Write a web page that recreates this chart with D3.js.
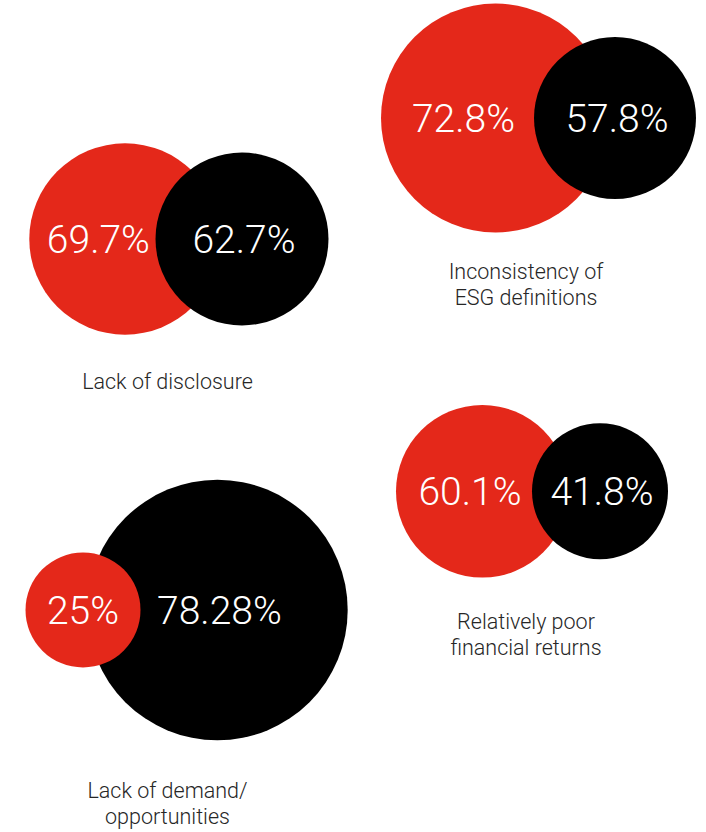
<!DOCTYPE html>
<html>
<head>
<meta charset="utf-8">
<script src="https://cdn.jsdelivr.net/npm/d3@7"></script>
<style>
  html, body { margin: 0; padding: 0; background: #fff; }
  svg { display: block; }
</style>
</head>
<body>
<svg id="chart" width="706" height="832"></svg>
<script>
// ---- data ----
const categories = ["Lack of disclosure", "Inconsistency of ESG definitions", "Relatively poor financial returns", "Lack of demand/ opportunities"];
const labelLines = [["Lack of disclosure"], ["Inconsistency of", "ESG definitions"], ["Relatively poor", "financial returns"], ["Lack of demand/", "opportunities"]];
const redValues = [69.7, 72.8, 60.1, 25];
const blackValues = [62.7, 57.8, 41.8, 78.28];

// ---- layout (kept apart from data) ----
const W = 706, H = 832;
const RED = "#e4281a", BLACK = "#000000";
const layoutCy = [239, 118, 491.3, 610];
const layoutRedCx = [125, 495.5, 482.3, 83];
const layoutBlackCx = [242, 615, 600, 217.4];
const layoutLabelX = [167.5, 526, 526, 167.5];
const layoutLabelY = [389.3, 279.3, 629.3, 798.3];

const cyScale = d3.scaleOrdinal(categories, layoutCy);
const redX = d3.scaleOrdinal(categories, layoutRedCx);
const blackX = d3.scaleOrdinal(categories, layoutBlackCx);
const labelX = d3.scaleOrdinal(categories, layoutLabelX);
const labelY = d3.scaleOrdinal(categories, layoutLabelY);

// radius scale: piecewise linear over the sorted values
const allVals = redValues.concat(blackValues).slice().sort(d3.ascending);
const rScale = d3.scaleLinear()
  .domain(allVals)
  .range([57.5, 68, 81, 86.3, 86.5, 95.7, 114.5, 130.3]);

const svg = d3.select("#chart");
const font = "Roboto, 'Helvetica Neue', Arial, sans-serif";

const groups = categories.map((c, i) => ({
  cat: c, i,
  red: redValues[i], black: blackValues[i],
  lines: labelLines[i]
}));

const g = svg.selectAll("g.pair").data(groups).join("g").attr("class", "pair");

g.each(function(d) {
  const sel = d3.select(this);
  const cy = cyScale(d.cat);
  const rr = rScale(d.red), rb = rScale(d.black);
  const rx = redX(d.cat), bx = blackX(d.cat);
  const circles = [
    {color: RED, cx: rx, r: rr, v: d.red},
    {color: BLACK, cx: bx, r: rb, v: d.black}
  ].sort((a, b) => b.r - a.r);
  sel.selectAll("circle").data(circles).join("circle")
    .attr("cx", c => c.cx).attr("cy", cy).attr("r", c => c.r)
    .attr("fill", c => c.color);

  const redOnTop = rr < rb;
  const redTextX = redOnTop ? rx : ((rx - rr) + (bx - rb)) / 2 + 6;
  const texts = [
    {x: redTextX, t: d.red + "%"},
    {x: bx + 2, t: d.black + "%"}
  ];
  sel.selectAll("text.val").data(texts).join("text")
    .attr("class", "val")
    .attr("x", t => t.x).attr("y", cy).attr("dy", "0.36em")
    .attr("text-anchor", "middle")
    .attr("fill", "#ffffff")
    .style("font-family", font)
    .style("font-weight", 300)
    .style("font-size", "39px")
    .text(t => t.t);

  const lab = sel.append("text")
    .attr("class", "lab")
    .attr("text-anchor", "middle")
    .attr("fill", "#262626")
    .style("font-family", font)
    .style("font-weight", 300)
    .style("font-size", "21.5px");
  lab.selectAll("tspan").data(d.lines).join("tspan")
    .attr("x", labelX(d.cat))
    .attr("y", (l, j) => labelY(d.cat) + j * 26)
    .text(l => l);
});
</script>
</body>
</html>
